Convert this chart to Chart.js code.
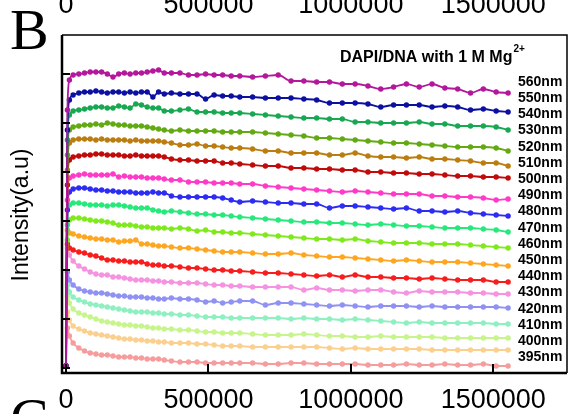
<!DOCTYPE html>
<html>
<head>
<meta charset="utf-8">
<script src="https://cdn.jsdelivr.net/npm/chart.js@4.4.1/dist/chart.umd.min.js"></script>
<style>
  html, body { margin: 0; padding: 0; background: #fff; overflow: hidden; }
  #wrap { position: relative; width: 571px; height: 414px; overflow: hidden; }
  #myChart { position: absolute; left: 0; top: -12px; }
</style>
</head>
<body>
<div id="wrap"><canvas id="myChart" width="571" height="440"></canvas></div>
<script>
"use strict";
// time axis (shared by every curve)
let times = [0, 5000, 12000, 25000, 45000, 65000, 85000, 105000, 125000, 145000,
  165000, 185000, 205000, 225000, 245000, 265000, 285000, 305000, 325000, 345000,
  370000, 400000, 430000, 460000, 490000, 520000, 550000, 580000, 610000, 655000,
  700000, 745000, 790000, 835000, 880000, 925000, 970000, 1015000, 1060000, 1105000,
  1150000, 1195000, 1240000, 1285000, 1330000, 1375000, 1420000, 1465000, 1510000, 1552000];

let s560 = [2, 258, 288, 293, 294, 295, 296, 296, 296, 294, 291, 294, 295, 294, 295, 295, 296, 297, 298, 295,
  295, 295, 293, 293, 294, 293, 293, 292, 292, 291, 292, 293, 287, 287, 286, 286, 284, 284, 282, 279,
  281, 284, 281, 284, 280, 279, 275, 279, 276, 275];
let s550 = [2, 238, 268, 273, 275, 276, 276, 277, 276, 275, 276, 276, 275, 276, 275, 276, 276, 271, 276, 274,
  275, 274, 274, 274, 269, 273, 272, 272, 271, 271, 270, 270, 270, 269, 268, 265, 265, 265, 264, 261,
  263, 263, 263, 261, 262, 261, 258, 259, 257, 256];
let s540 = [2, 228, 253, 257, 258, 259, 260, 261, 261, 260, 260, 262, 261, 260, 264, 263, 261, 260, 260, 257,
  257, 258, 259, 256, 256, 256, 255, 255, 255, 254, 253, 252, 251, 250, 250, 249, 249, 246, 246, 245,
  245, 245, 246, 244, 244, 242, 242, 242, 241, 238];
let s530 = [2, 213, 238, 241, 242, 243, 243, 244, 243, 245, 244, 243, 243, 242, 242, 242, 241, 240, 239, 238,
  237, 238, 237, 237, 237, 237, 236, 236, 236, 236, 235, 234, 233, 232, 230, 230, 229, 228, 227, 226,
  225, 225, 224, 223, 222, 221, 221, 221, 220, 217];
let s520 = [2, 198, 225, 228, 229, 229, 229, 228, 229, 228, 228, 228, 228, 227, 228, 227, 227, 227, 227, 226,
  225, 223, 223, 224, 222, 222, 221, 220, 220, 219, 217, 217, 215, 215, 215, 213, 213, 215, 212, 211,
  211, 210, 211, 209, 209, 208, 207, 205, 205, 202];
let s510 = [2, 183, 208, 211, 212, 213, 213, 214, 214, 213, 213, 213, 212, 212, 213, 212, 212, 212, 212, 211,
  209, 208, 208, 207, 207, 207, 205, 205, 204, 203, 202, 202, 200, 200, 199, 199, 198, 198, 196, 196,
  195, 195, 194, 194, 193, 192, 192, 191, 191, 190];
let s500 = [2, 168, 190, 192, 193, 194, 193, 193, 193, 193, 194, 191, 192, 191, 191, 191, 190, 190, 190, 189,
  188, 188, 186, 186, 186, 185, 185, 185, 184, 184, 182, 181, 180, 179, 178, 177, 176, 177, 176, 175,
  174, 174, 174, 172, 172, 171, 171, 170, 168, 169];
let s490 = [2, 158, 176, 179, 180, 180, 179, 178, 178, 177, 177, 176, 176, 176, 175, 175, 175, 176, 175, 175,
  172, 171, 171, 171, 171, 171, 170, 168, 166, 167, 166, 165, 165, 164, 164, 160, 162, 162, 161, 160,
  159, 160, 157, 157, 156, 157, 155, 154, 153, 152];
let s480 = [2, 143, 163, 165, 165, 164, 163, 163, 163, 162, 163, 163, 162, 161, 160, 160, 160, 158, 157, 156,
  157, 156, 155, 154, 154, 153, 153, 152, 151, 150, 149, 148, 147, 146, 146, 145, 145, 144, 143, 144,
  143, 142, 142, 141, 140, 140, 140, 139, 138, 136];
let s470 = [2, 128, 148, 150, 150, 149, 148, 147, 147, 146, 145, 143, 143, 143, 142, 141, 141, 140, 140, 140,
  139, 140, 139, 137, 138, 136, 136, 135, 135, 134, 133, 132, 131, 130, 129, 129, 128, 129, 127, 126,
  125, 125, 125, 124, 124, 124, 123, 122, 121, 120];
let s460 = [2, 138, 135, 134, 132, 131, 130, 129, 129, 128, 128, 126, 127, 127, 128, 124, 124, 123, 122, 122,
  121, 120, 120, 119, 118, 117, 116, 116, 116, 115, 114, 114, 115, 113, 112, 111, 111, 110, 109, 108,
  107, 108, 107, 106, 106, 106, 105, 104, 103, 102];
let s450 = [2, 124, 120, 118, 116, 115, 113, 112, 110, 108, 108, 107, 107, 106, 106, 106, 104, 103, 103, 102,
  102, 101, 100, 100, 99, 98, 98, 97, 97, 96, 95, 95, 94, 93, 92, 93, 91, 93, 91, 91,
  90, 90, 89, 90, 89, 88, 88, 88, 86, 86];
let s440 = [2, 120, 113, 107, 102, 99, 96, 94, 93, 93, 91, 91, 90, 89, 88, 88, 88, 87, 87, 86,
  86, 85, 85, 85, 84, 83, 83, 82, 82, 81, 81, 81, 81, 78, 80, 78, 78, 77, 78, 78,
  76, 75, 77, 76, 76, 76, 75, 75, 74, 74];
let s430 = [2, 96, 88, 83, 79, 77, 76, 75, 75, 74, 73, 72, 72, 71, 71, 71, 70, 70, 69, 69,
  70, 69, 69, 68, 66, 67, 65, 66, 67, 67, 63, 65, 65, 64, 63, 62, 63, 62, 61, 62,
  62, 62, 61, 62, 61, 61, 61, 61, 61, 60];
let s420 = [2, 83, 76, 71, 68, 66, 64, 63, 62, 61, 60, 59, 58, 57, 56, 56, 56, 55, 55, 54,
  54, 53, 53, 52, 51, 51, 51, 50, 50, 50, 50, 50, 49, 50, 49, 49, 48, 49, 48, 47,
  46, 45, 46, 45, 45, 45, 45, 45, 44, 44];
let s410 = [2, 72, 65, 59, 55, 53, 51, 49, 47, 46, 45, 44, 43, 43, 42, 42, 41, 40, 40, 39,
  39, 38, 38, 37, 36, 36, 35, 35, 35, 34, 33, 33, 33, 34, 33, 32, 32, 31, 31, 32,
  31, 31, 31, 31, 30, 30, 30, 30, 30, 30];
let s400 = [2, 56, 48, 42, 39, 37, 35, 34, 33, 32, 31, 30, 29, 29, 28, 28, 27, 27, 26, 26,
  25, 25, 25, 24, 24, 23, 22, 22, 22, 21, 21, 21, 21, 21, 21, 20, 19, 20, 19, 19,
  19, 19, 19, 18, 18, 18, 18, 18, 18, 18];
let s395 = [2, 40, 32, 25, 20, 17, 15, 14, 13, 13, 12, 11, 11, 11, 10, 10, 9, 9, 9, 8,
  7, 6, 6, 6, 5, 5, 5, 5, 5, 5, 4, 4, 5, 5, 4, 4, 4, 4, 3, 3,
  3, 4, 3, 3, 4, 3, 3, 4, 2, 2];

let wavelengths = ["560nm", "550nm", "540nm", "530nm", "520nm", "510nm", "500nm", "490nm", "480nm",
  "470nm", "460nm", "450nm", "440nm", "430nm", "420nm", "410nm", "400nm", "395nm"];
let seriesArr = [s560, s550, s540, s530, s520, s510, s500, s490, s480,
  s470, s460, s450, s440, s430, s420, s410, s400, s395];
let colorArr = ["#b3179b", "#0c10a0", "#18a852", "#63a913", "#bb7d10", "#c10b0b", "#ff3ac8", "#2c2cf3", "#27e97b",
  "#80e91c", "#ffa620", "#f81d1d", "#f593e0", "#8f92f2", "#8ef0c1", "#c7f48b", "#fbd08f", "#f59d9d"];
let xTicks = [0, 500000, 1000000, 1500000];
let yTicks = [0, 49, 98, 147, 196, 245, 294];
let panelTitle = "DAPI/DNA with 1 M Mg";
let yTitle = "Intensity(a.u)";

const FONT = "'Liberation Sans', Arial, sans-serif";

let datasets = [];
for (let i = 0; i < seriesArr.length; i++) {
  datasets.push({
    label: wavelengths[i],
    data: times.map((t, k) => ({ x: t, y: seriesArr[i][k] })),
    borderColor: colorArr[i],
    backgroundColor: colorArr[i],
    borderWidth: 1.8,
    pointRadius: 2.7,
    pointBorderWidth: 0,
    cubicInterpolationMode: "monotone",
    xAxisID: "x",
    yAxisID: "y",
  });
}

// frame, inner ticks and text annotations
const decor = {
  id: "decor",
  afterDatasetsDraw(chart) {
    const ctx = chart.ctx;
    const a = chart.chartArea;
    const sx = chart.scales.x;
    const sy = chart.scales.y;
    ctx.save();
    ctx.strokeStyle = "#000";
    // inner ticks
    ctx.lineWidth = 2;
    yTicks.forEach((v) => {
      let p = Math.round(sy.getPixelForValue(v));
      ctx.beginPath();
      ctx.moveTo(a.left, p);
      ctx.lineTo(a.left + 8, p);
      ctx.stroke();
    });
    xTicks.forEach((v) => {
      let p = Math.round(sx.getPixelForValue(v));
      ctx.beginPath();
      ctx.moveTo(p, a.bottom);
      ctx.lineTo(p, a.bottom - 9);
      ctx.stroke();
    });
    // frame
    ctx.lineWidth = 1.5;
    ctx.beginPath();
    ctx.moveTo(a.left, a.top);
    ctx.lineTo(a.right, a.top);
    ctx.lineTo(a.right, a.bottom);
    ctx.stroke();
    ctx.lineWidth = 2.5;
    ctx.beginPath();
    ctx.moveTo(a.left, a.top);
    ctx.lineTo(a.left, a.bottom);
    ctx.lineTo(a.right, a.bottom);
    ctx.stroke();

    ctx.fillStyle = "#000";
    // header
    ctx.textBaseline = "alphabetic";
    ctx.textAlign = "left";
    ctx.font = "bold 16px " + FONT;
    ctx.fillText(panelTitle, 340, a.top + 27);
    let w = ctx.measureText(panelTitle).width;
    ctx.font = "bold 10px " + FONT;
    ctx.fillText("2+", 340 + w + 1, a.top + 17);

    // wavelength labels
    ctx.font = "bold 14px " + FONT;
    ctx.textBaseline = "middle";
    wavelengths.forEach((lab, i) => {
      ctx.fillText(lab, 518, a.top + 47 + i * 16.2);
    });

    // y title
    ctx.save();
    ctx.translate(22, (a.top + a.bottom) / 2 + 11);
    ctx.rotate(-Math.PI / 2);
    ctx.textAlign = "center";
    ctx.font = "23px " + FONT;
    ctx.fillText(yTitle, 0, 0);
    ctx.restore();

    // panel letters
    ctx.textBaseline = "alphabetic";
    ctx.font = "58px 'Liberation Serif', 'Times New Roman', serif";
    ctx.fillText("B", 10, a.top + 14);
    ctx.fillText("C", 10, a.bottom + 65);
    ctx.restore();
  },
};

let ctx = document.getElementById("myChart").getContext("2d");
let myChart = new Chart(ctx, {
  type: "line",
  data: { datasets: datasets },
  plugins: [decor],
  options: {
    responsive: false,
    animation: false,
    events: [],
    layout: { padding: { left: 0, right: 2, top: 0, bottom: 0 } },
    plugins: { legend: { display: false }, tooltip: { enabled: false } },
    scales: {
      x: {
        type: "linear",
        position: "bottom",
        min: -14000,
        max: 1758700,
        grid: { display: false, drawTicks: false },
        border: { display: false },
        afterBuildTicks: (s) => { s.ticks = xTicks.map((v) => ({ value: v })); },
        afterFit: (s) => { s.height = 55; },
        ticks: {
          padding: 11,
          color: "#000",
          maxRotation: 0,
          font: { family: FONT, size: 27 },
          callback: (v) => String(v),
        },
      },
      x2: {
        type: "linear",
        position: "top",
        min: -14000,
        max: 1758700,
        grid: { display: false, drawTicks: false },
        border: { display: false },
        afterBuildTicks: (s) => { s.ticks = xTicks.map((v) => ({ value: v })); },
        afterFit: (s) => { s.height = 47; },
        ticks: {
          padding: 13,
          color: "#000",
          maxRotation: 0,
          font: { family: FONT, size: 27 },
          callback: (v) => String(v),
        },
      },
      y: {
        type: "linear",
        position: "left",
        min: -5,
        max: 333,
        grid: { display: false, drawTicks: false },
        border: { display: false },
        afterBuildTicks: (s) => { s.ticks = yTicks.map((v) => ({ value: v })); },
        afterFit: (s) => { s.width = 62; },
        ticks: { display: false },
      },
    },
  },
});
</script>
</body>
</html>
